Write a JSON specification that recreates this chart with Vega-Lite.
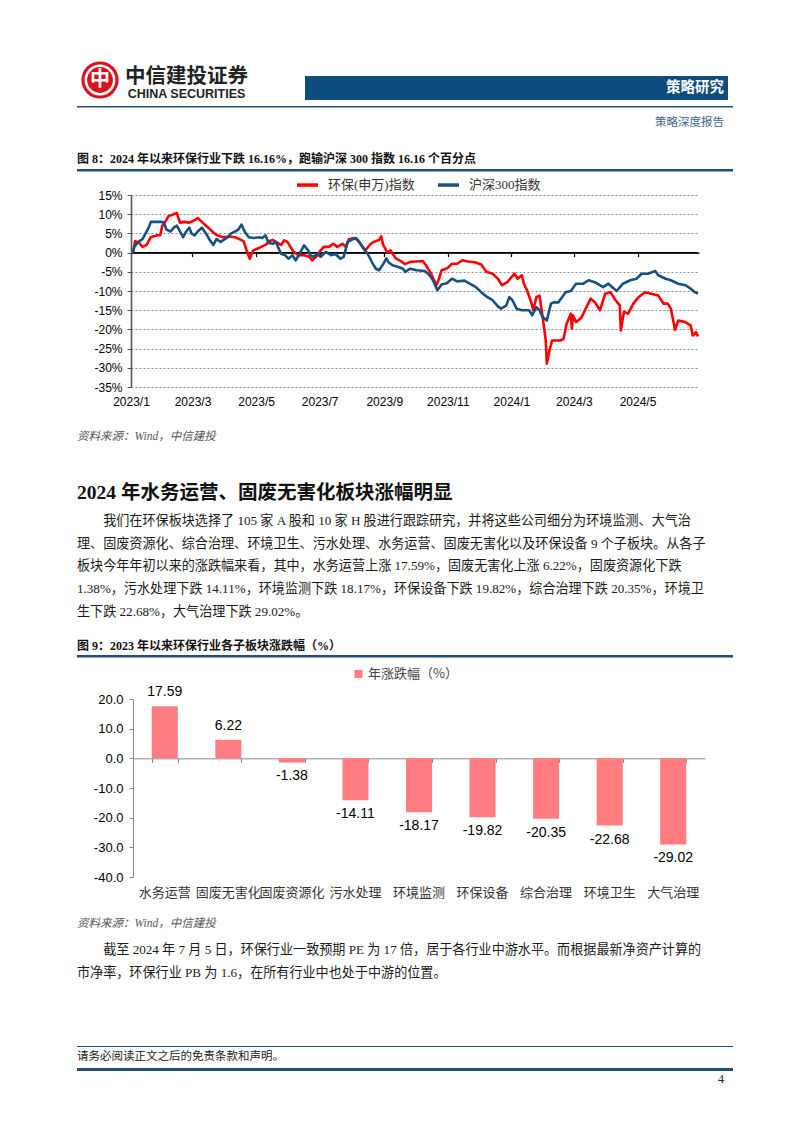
{
  "$schema": "https://vega.github.io/schema/vega-lite/v6.json",
  "background": "white",
  "padding": {"left": 77, "top": 58, "right": 5, "bottom": 5},
  "spacing": 0,
  "columns": 1,
  "align": "none",
  "center": false,
  "resolve": {"scale": {"color": "independent"}, "legend": {"color": "independent"}},
  "config": {
    "view": {"stroke": null},
    "font": "Liberation Sans, Noto Sans CJK SC",
    "locale": {"number": {"decimal": ".", "thousands": ",", "grouping": [3], "currency": ["", ""], "minus": "-"}},
    "concat": {"spacing": 0},
    "title": {"anchor": "start", "frame": "group", "color": "#111111", "font": "Liberation Serif, Noto Sans CJK SC", "fontWeight": "bold", "fontSize": 12, "offset": 3, "baseline": "top"}
  },
  "concat": [
    {
      "spacing": 0,
      "hconcat": [
        {
          "width": 46, "height": 44,
          "data": {"values": [{}]},
          "layer": [
            {"mark": {"type": "point", "filled": true, "color": "#d9121b", "size": 1385, "opacity": 1, "strokeWidth": 0}, "encoding": {}},
            {"mark": {"type": "point", "filled": false, "color": "#ffffff", "size": 800, "opacity": 1, "strokeWidth": 2.5}, "encoding": {}},
            {"mark": {"type": "text", "color": "#ffffff", "fontSize": 20, "fontWeight": "bold", "font": "Noto Sans CJK SC", "baseline": "middle"}, "encoding": {"text": {"value": "中"}}}
          ]
        },
        {
          "width": 127, "height": 44,
          "data": {"values": [{}]},
          "layer": [
            {"mark": {"type": "text", "font": "Noto Sans CJK SC", "fontSize": 20.5, "fontWeight": "bold", "color": "#222222", "baseline": "middle", "dy": -3.5}, "encoding": {"text": {"value": "中信建投证券"}}},
            {"mark": {"type": "text", "font": "Liberation Sans", "fontSize": 12.5, "fontWeight": "bold", "color": "#222222", "baseline": "middle", "dy": 13.5}, "encoding": {"text": {"value": "CHINA SECURITIES"}}}
          ]
        },
        {"width": 55, "height": 1, "mark": "text", "encoding": {"text": {"value": ""}}},
        {
          "spacing": 0,
          "vconcat": [
            {"width": 423, "height": 18, "mark": "text", "encoding": {"text": {"value": ""}}},
            {"width": 423, "height": 24, "view": {"fill": "#0e4c7d"},
             "data": {"values": [{}]},
             "mark": {"type": "text", "color": "#ffffff", "fontSize": 14.5, "fontWeight": "bold", "font": "Noto Sans CJK SC", "align": "right", "baseline": "middle", "dx": -4},
             "encoding": {"x": {"value": "width"}, "text": {"value": "策略研究"}}}
          ]
        }
      ]
    },
    {"width": 1, "height": 4, "mark": "text", "encoding": {"text": {"value": ""}}},
    {"width": 656, "height": 1.5, "view": {"fill": "#1f4e79"}, "mark": "text", "encoding": {"text": {"value": ""}}},
    {"width": 647, "height": 30,
     "data": {"values": [{}]},
     "mark": {"type": "text", "fontSize": 11.5, "color": "#3f6489", "align": "right", "baseline": "middle", "font": "Noto Sans CJK SC"},
     "encoding": {"x": {"value": "width"}, "text": {"value": "策略深度报告"}}},
    {"width": 1, "height": 15, "mark": "text", "encoding": {"text": {"value": ""}}},
    {"width": 656, "height": 2.5, "view": {"fill": "#1f4e79"},
     "title": {"text": "图 8：2024 年以来环保行业下跌 16.16%，跑输沪深 300 指数 16.16 个百分点", "fontSize": 12, "offset": 3},
     "mark": "text", "encoding": {"text": {"value": ""}}},
    {
      "spacing": 0,
      "resolve": {"scale": {"color": "independent"}, "legend": {"color": "independent"}},
      "hconcat": [
        {"width": 1, "height": 1, "mark": "text", "encoding": {"text": {"value": ""}}},
        {
          "width": 568, "height": 192,
          "data": {"values": [
            {"d":"2023-01-03","s":"环保(申万)指数","v":0},
            {"d":"2023-01-05","s":"环保(申万)指数","v":3.0},
            {"d":"2023-01-09","s":"环保(申万)指数","v":2.5},
            {"d":"2023-01-12","s":"环保(申万)指数","v":1.5},
            {"d":"2023-01-16","s":"环保(申万)指数","v":2.0},
            {"d":"2023-01-20","s":"环保(申万)指数","v":4.0},
            {"d":"2023-01-26","s":"环保(申万)指数","v":4.5},
            {"d":"2023-01-29","s":"环保(申万)指数","v":4.5},
            {"d":"2023-01-31","s":"环保(申万)指数","v":7.0},
            {"d":"2023-02-04","s":"环保(申万)指数","v":8.5},
            {"d":"2023-02-06","s":"环保(申万)指数","v":9.5},
            {"d":"2023-02-11","s":"环保(申万)指数","v":10.0},
            {"d":"2023-02-14","s":"环保(申万)指数","v":10.3},
            {"d":"2023-02-17","s":"环保(申万)指数","v":7.8},
            {"d":"2023-02-21","s":"环保(申万)指数","v":8.0},
            {"d":"2023-02-26","s":"环保(申万)指数","v":7.8},
            {"d":"2023-03-02","s":"环保(申万)指数","v":8.3},
            {"d":"2023-03-06","s":"环保(申万)指数","v":9.0},
            {"d":"2023-03-10","s":"环保(申万)指数","v":8.0},
            {"d":"2023-03-14","s":"环保(申万)指数","v":7.0},
            {"d":"2023-03-18","s":"环保(申万)指数","v":6.0},
            {"d":"2023-03-22","s":"环保(申万)指数","v":5.0},
            {"d":"2023-03-25","s":"环保(申万)指数","v":4.5},
            {"d":"2023-03-30","s":"环保(申万)指数","v":4.0},
            {"d":"2023-04-05","s":"环保(申万)指数","v":4.2},
            {"d":"2023-04-11","s":"环保(申万)指数","v":4.0},
            {"d":"2023-04-15","s":"环保(申万)指数","v":3.5},
            {"d":"2023-04-19","s":"环保(申万)指数","v":3.0},
            {"d":"2023-04-22","s":"环保(申万)指数","v":0.5},
            {"d":"2023-04-25","s":"环保(申万)指数","v":-1.6},
            {"d":"2023-04-28","s":"环保(申万)指数","v":0.5},
            {"d":"2023-05-02","s":"环保(申万)指数","v":1.0},
            {"d":"2023-05-06","s":"环保(申万)指数","v":1.5},
            {"d":"2023-05-10","s":"环保(申万)指数","v":2.0},
            {"d":"2023-05-14","s":"环保(申万)指数","v":3.0},
            {"d":"2023-05-17","s":"环保(申万)指数","v":3.3},
            {"d":"2023-05-20","s":"环保(申万)指数","v":2.8},
            {"d":"2023-05-25","s":"环保(申万)指数","v":2.0},
            {"d":"2023-05-28","s":"环保(申万)指数","v":3.2},
            {"d":"2023-05-31","s":"环保(申万)指数","v":2.8},
            {"d":"2023-06-03","s":"环保(申万)指数","v":1.5},
            {"d":"2023-06-06","s":"环保(申万)指数","v":0.2},
            {"d":"2023-06-11","s":"环保(申万)指数","v":-0.7},
            {"d":"2023-06-16","s":"环保(申万)指数","v":-0.7},
            {"d":"2023-06-21","s":"环保(申万)指数","v":-1.1},
            {"d":"2023-06-24","s":"环保(申万)指数","v":-2.0},
            {"d":"2023-06-29","s":"环保(申万)指数","v":-0.7},
            {"d":"2023-07-02","s":"环保(申万)指数","v":0.6},
            {"d":"2023-07-05","s":"环保(申万)指数","v":1.5},
            {"d":"2023-07-10","s":"环保(申万)指数","v":1.5},
            {"d":"2023-07-14","s":"环保(申万)指数","v":2.3},
            {"d":"2023-07-18","s":"环保(申万)指数","v":1.5},
            {"d":"2023-07-23","s":"环保(申万)指数","v":2.3},
            {"d":"2023-07-26","s":"环保(申万)指数","v":1.5},
            {"d":"2023-07-29","s":"环保(申万)指数","v":3.5},
            {"d":"2023-08-03","s":"环保(申万)指数","v":3.8},
            {"d":"2023-08-06","s":"环保(申万)指数","v":3.3},
            {"d":"2023-08-09","s":"环保(申万)指数","v":2.3},
            {"d":"2023-08-14","s":"环保(申万)指数","v":0.6},
            {"d":"2023-08-19","s":"环保(申万)指数","v":2.3},
            {"d":"2023-08-22","s":"环保(申万)指数","v":2.8},
            {"d":"2023-08-27","s":"环保(申万)指数","v":3.3},
            {"d":"2023-08-29","s":"环保(申万)指数","v":4.2},
            {"d":"2023-08-31","s":"环保(申万)指数","v":2.0},
            {"d":"2023-09-04","s":"环保(申万)指数","v":0.0},
            {"d":"2023-09-07","s":"环保(申万)指数","v":0.6},
            {"d":"2023-09-12","s":"环保(申万)指数","v":-1.5},
            {"d":"2023-09-17","s":"环保(申万)指数","v":-2.2},
            {"d":"2023-09-21","s":"环保(申万)指数","v":-3.0},
            {"d":"2023-09-26","s":"环保(申万)指数","v":-2.4},
            {"d":"2023-10-02","s":"环保(申万)指数","v":-2.3},
            {"d":"2023-10-08","s":"环保(申万)指数","v":-2.2},
            {"d":"2023-10-12","s":"环保(申万)指数","v":-3.7},
            {"d":"2023-10-16","s":"环保(申万)指数","v":-5.5},
            {"d":"2023-10-21","s":"环保(申万)指数","v":-8.5},
            {"d":"2023-10-23","s":"环保(申万)指数","v":-7.2},
            {"d":"2023-10-26","s":"环保(申万)指数","v":-4.6},
            {"d":"2023-11-01","s":"环保(申万)指数","v":-4.0},
            {"d":"2023-11-05","s":"环保(申万)指数","v":-2.9},
            {"d":"2023-11-10","s":"环保(申万)指数","v":-2.9},
            {"d":"2023-11-15","s":"环保(申万)指数","v":-2.0},
            {"d":"2023-11-20","s":"环保(申万)指数","v":-2.3},
            {"d":"2023-11-27","s":"环保(申万)指数","v":-2.5},
            {"d":"2023-12-03","s":"环保(申万)指数","v":-3.1},
            {"d":"2023-12-08","s":"环保(申万)指数","v":-5.0},
            {"d":"2023-12-14","s":"环保(申万)指数","v":-5.5},
            {"d":"2023-12-19","s":"环保(申万)指数","v":-6.8},
            {"d":"2023-12-23","s":"环保(申万)指数","v":-8.5},
            {"d":"2023-12-28","s":"环保(申万)指数","v":-7.7},
            {"d":"2024-01-04","s":"环保(申万)指数","v":-5.5},
            {"d":"2024-01-07","s":"环保(申万)指数","v":-6.8},
            {"d":"2024-01-11","s":"环保(申万)指数","v":-5.9},
            {"d":"2024-01-13","s":"环保(申万)指数","v":-8.1},
            {"d":"2024-01-16","s":"环保(申万)指数","v":-9.8},
            {"d":"2024-01-20","s":"环保(申万)指数","v":-12.9},
            {"d":"2024-01-22","s":"环保(申万)指数","v":-15.0},
            {"d":"2024-01-25","s":"环保(申万)指数","v":-11.6},
            {"d":"2024-01-28","s":"环保(申万)指数","v":-11.2},
            {"d":"2024-01-31","s":"环保(申万)指数","v":-16.8},
            {"d":"2024-02-03","s":"环保(申万)指数","v":-22.9},
            {"d":"2024-02-04","s":"环保(申万)指数","v":-28.9},
            {"d":"2024-02-07","s":"环保(申万)指数","v":-25.0},
            {"d":"2024-02-09","s":"环保(申万)指数","v":-22.9},
            {"d":"2024-02-17","s":"环保(申万)指数","v":-22.9},
            {"d":"2024-02-20","s":"环保(申万)指数","v":-22.5},
            {"d":"2024-02-23","s":"环保(申万)指数","v":-18.5},
            {"d":"2024-02-27","s":"环保(申万)指数","v":-15.9},
            {"d":"2024-02-28","s":"环保(申万)指数","v":-19.8},
            {"d":"2024-02-29","s":"环保(申万)指数","v":-16.3},
            {"d":"2024-03-03","s":"环保(申万)指数","v":-18.1},
            {"d":"2024-03-08","s":"环保(申万)指数","v":-17.0},
            {"d":"2024-03-13","s":"环保(申万)指数","v":-14.2},
            {"d":"2024-03-17","s":"环保(申万)指数","v":-12.0},
            {"d":"2024-03-21","s":"环保(申万)指数","v":-12.9},
            {"d":"2024-03-26","s":"环保(申万)指数","v":-15.0},
            {"d":"2024-03-31","s":"环保(申万)指数","v":-10.7},
            {"d":"2024-04-05","s":"环保(申万)指数","v":-10.3},
            {"d":"2024-04-10","s":"环保(申万)指数","v":-12.4},
            {"d":"2024-04-14","s":"环保(申万)指数","v":-13.8},
            {"d":"2024-04-15","s":"环保(申万)指数","v":-20.3},
            {"d":"2024-04-18","s":"环保(申万)指数","v":-15.4},
            {"d":"2024-04-22","s":"环保(申万)指数","v":-15.9},
            {"d":"2024-04-27","s":"环保(申万)指数","v":-13.3},
            {"d":"2024-05-02","s":"环保(申万)指数","v":-11.6},
            {"d":"2024-05-08","s":"环保(申万)指数","v":-10.3},
            {"d":"2024-05-14","s":"环保(申万)指数","v":-10.7},
            {"d":"2024-05-21","s":"环保(申万)指数","v":-11.2},
            {"d":"2024-05-26","s":"环保(申万)指数","v":-13.3},
            {"d":"2024-05-30","s":"环保(申万)指数","v":-13.3},
            {"d":"2024-06-02","s":"环保(申万)指数","v":-14.6},
            {"d":"2024-06-06","s":"环保(申万)指数","v":-20.1},
            {"d":"2024-06-09","s":"环保(申万)指数","v":-17.7},
            {"d":"2024-06-16","s":"环保(申万)指数","v":-18.1},
            {"d":"2024-06-21","s":"环保(申万)指数","v":-19.0},
            {"d":"2024-06-23","s":"环保(申万)指数","v":-21.6},
            {"d":"2024-06-26","s":"环保(申万)指数","v":-20.7},
            {"d":"2024-06-28","s":"环保(申万)指数","v":-21.8},
            {"d":"2023-01-03","s":"沪深300指数","v":0},
            {"d":"2023-01-04","s":"沪深300指数","v":1.5},
            {"d":"2023-01-08","s":"沪深300指数","v":2.8},
            {"d":"2023-01-12","s":"沪深300指数","v":3.5},
            {"d":"2023-01-15","s":"沪深300指数","v":5.0},
            {"d":"2023-01-18","s":"沪深300指数","v":6.5},
            {"d":"2023-01-20","s":"沪深300指数","v":8.0},
            {"d":"2023-01-26","s":"沪深300指数","v":8.0},
            {"d":"2023-01-31","s":"沪深300指数","v":8.0},
            {"d":"2023-02-02","s":"沪深300指数","v":7.5},
            {"d":"2023-02-04","s":"沪深300指数","v":6.0},
            {"d":"2023-02-08","s":"沪深300指数","v":5.5},
            {"d":"2023-02-11","s":"沪深300指数","v":6.5},
            {"d":"2023-02-14","s":"沪深300指数","v":7.0},
            {"d":"2023-02-17","s":"沪深300指数","v":5.5},
            {"d":"2023-02-20","s":"沪深300指数","v":4.0},
            {"d":"2023-02-23","s":"沪深300指数","v":5.5},
            {"d":"2023-02-26","s":"沪深300指数","v":6.5},
            {"d":"2023-02-28","s":"沪深300指数","v":5.0},
            {"d":"2023-03-03","s":"沪深300指数","v":4.5},
            {"d":"2023-03-06","s":"沪深300指数","v":5.5},
            {"d":"2023-03-10","s":"沪深300指数","v":6.5},
            {"d":"2023-03-14","s":"沪深300指数","v":5.0},
            {"d":"2023-03-17","s":"沪深300指数","v":3.5},
            {"d":"2023-03-21","s":"沪深300指数","v":2.0},
            {"d":"2023-03-24","s":"沪深300指数","v":3.5},
            {"d":"2023-03-28","s":"沪深300指数","v":2.8},
            {"d":"2023-04-01","s":"沪深300指数","v":3.5},
            {"d":"2023-04-04","s":"沪深300指数","v":4.0},
            {"d":"2023-04-07","s":"沪深300指数","v":5.0},
            {"d":"2023-04-11","s":"沪深300指数","v":5.5},
            {"d":"2023-04-14","s":"沪深300指数","v":6.0},
            {"d":"2023-04-17","s":"沪深300指数","v":7.3},
            {"d":"2023-04-20","s":"沪深300指数","v":5.5},
            {"d":"2023-04-24","s":"沪深300指数","v":4.0},
            {"d":"2023-04-29","s":"沪深300指数","v":3.8},
            {"d":"2023-05-04","s":"沪深300指数","v":4.0},
            {"d":"2023-05-07","s":"沪深300指数","v":3.8},
            {"d":"2023-05-10","s":"沪深300指数","v":4.5},
            {"d":"2023-05-13","s":"沪深300指数","v":2.5},
            {"d":"2023-05-17","s":"沪深300指数","v":2.3},
            {"d":"2023-05-20","s":"沪深300指数","v":2.8},
            {"d":"2023-05-22","s":"沪深300指数","v":1.5},
            {"d":"2023-05-25","s":"沪深300指数","v":-0.3},
            {"d":"2023-05-29","s":"沪深300指数","v":-0.7},
            {"d":"2023-06-01","s":"沪深300指数","v":-1.6},
            {"d":"2023-06-05","s":"沪深300指数","v":-0.7},
            {"d":"2023-06-08","s":"沪深300指数","v":-2.0},
            {"d":"2023-06-11","s":"沪深300指数","v":-0.7},
            {"d":"2023-06-16","s":"沪深300指数","v":1.9},
            {"d":"2023-06-20","s":"沪深300指数","v":0.6},
            {"d":"2023-06-22","s":"沪深300指数","v":-0.7},
            {"d":"2023-06-25","s":"沪深300指数","v":-1.1},
            {"d":"2023-06-29","s":"沪深300指数","v":-0.3},
            {"d":"2023-07-02","s":"沪深300指数","v":-1.1},
            {"d":"2023-07-07","s":"沪深300指数","v":0.2},
            {"d":"2023-07-12","s":"沪深300指数","v":-0.7},
            {"d":"2023-07-16","s":"沪深300指数","v":-0.3},
            {"d":"2023-07-21","s":"沪深300指数","v":-1.6},
            {"d":"2023-07-24","s":"沪深300指数","v":-1.1},
            {"d":"2023-07-28","s":"沪深300指数","v":2.8},
            {"d":"2023-08-02","s":"沪深300指数","v":3.5},
            {"d":"2023-08-05","s":"沪深300指数","v":3.8},
            {"d":"2023-08-07","s":"沪深300指数","v":3.2},
            {"d":"2023-08-12","s":"沪深300指数","v":1.1},
            {"d":"2023-08-16","s":"沪深300指数","v":-0.3},
            {"d":"2023-08-21","s":"沪深300指数","v":-2.9},
            {"d":"2023-08-24","s":"沪深300指数","v":-4.2},
            {"d":"2023-08-27","s":"沪深300指数","v":-4.6},
            {"d":"2023-08-31","s":"沪深300指数","v":-3.0},
            {"d":"2023-09-03","s":"沪深300指数","v":-1.5},
            {"d":"2023-09-05","s":"沪深300指数","v":-2.5},
            {"d":"2023-09-09","s":"沪深300指数","v":-3.3},
            {"d":"2023-09-14","s":"沪深300指数","v":-3.7},
            {"d":"2023-09-19","s":"沪深300指数","v":-4.2},
            {"d":"2023-09-21","s":"沪深300指数","v":-5.0},
            {"d":"2023-09-26","s":"沪深300指数","v":-4.2},
            {"d":"2023-10-02","s":"沪深300指数","v":-4.6},
            {"d":"2023-10-10","s":"沪深300指数","v":-4.8},
            {"d":"2023-10-13","s":"沪深300指数","v":-5.5},
            {"d":"2023-10-17","s":"沪深300指数","v":-6.8},
            {"d":"2023-10-22","s":"沪深300指数","v":-9.8},
            {"d":"2023-10-26","s":"沪深300指数","v":-8.3},
            {"d":"2023-10-31","s":"沪深300指数","v":-8.0},
            {"d":"2023-11-05","s":"沪深300指数","v":-6.8},
            {"d":"2023-11-10","s":"沪深300指数","v":-7.5},
            {"d":"2023-11-17","s":"沪深300指数","v":-7.3},
            {"d":"2023-11-22","s":"沪深300指数","v":-8.1},
            {"d":"2023-11-28","s":"沪深300指数","v":-9.0},
            {"d":"2023-12-03","s":"沪深300指数","v":-10.3},
            {"d":"2023-12-09","s":"沪深300指数","v":-11.6},
            {"d":"2023-12-14","s":"沪深300指数","v":-12.4},
            {"d":"2023-12-19","s":"沪深300指数","v":-14.0},
            {"d":"2023-12-22","s":"沪深300指数","v":-14.6},
            {"d":"2023-12-27","s":"沪深300指数","v":-13.8},
            {"d":"2023-12-30","s":"沪深300指数","v":-11.6},
            {"d":"2024-01-02","s":"沪深300指数","v":-12.4},
            {"d":"2024-01-06","s":"沪深300指数","v":-14.6},
            {"d":"2024-01-11","s":"沪深300指数","v":-15.0},
            {"d":"2024-01-15","s":"沪深300指数","v":-15.0},
            {"d":"2024-01-18","s":"沪深300指数","v":-15.0},
            {"d":"2024-01-21","s":"沪深300指数","v":-16.3},
            {"d":"2024-01-25","s":"沪深300指数","v":-14.2},
            {"d":"2024-01-28","s":"沪深300指数","v":-15.0},
            {"d":"2024-01-31","s":"沪深300指数","v":-16.8},
            {"d":"2024-02-04","s":"沪深300指数","v":-17.7},
            {"d":"2024-02-06","s":"沪深300指数","v":-15.4},
            {"d":"2024-02-08","s":"沪深300指数","v":-13.3},
            {"d":"2024-02-11","s":"沪深300指数","v":-12.9},
            {"d":"2024-02-15","s":"沪深300指数","v":-13.0},
            {"d":"2024-02-22","s":"沪深300指数","v":-10.3},
            {"d":"2024-02-27","s":"沪深300指数","v":-10.0},
            {"d":"2024-03-03","s":"沪深300指数","v":-8.1},
            {"d":"2024-03-10","s":"沪深300指数","v":-8.1},
            {"d":"2024-03-15","s":"沪深300指数","v":-7.2},
            {"d":"2024-03-21","s":"沪深300指数","v":-7.7},
            {"d":"2024-03-29","s":"沪深300指数","v":-9.0},
            {"d":"2024-04-03","s":"沪深300指数","v":-8.1},
            {"d":"2024-04-11","s":"沪深300指数","v":-10.0},
            {"d":"2024-04-17","s":"沪深300指数","v":-8.1},
            {"d":"2024-04-24","s":"沪深300指数","v":-7.2},
            {"d":"2024-04-30","s":"沪深300指数","v":-6.8},
            {"d":"2024-05-05","s":"沪深300指数","v":-5.5},
            {"d":"2024-05-11","s":"沪深300指数","v":-5.5},
            {"d":"2024-05-18","s":"沪深300指数","v":-4.8},
            {"d":"2024-05-21","s":"沪深300指数","v":-5.9},
            {"d":"2024-05-28","s":"沪深300指数","v":-6.8},
            {"d":"2024-06-02","s":"沪深300指数","v":-7.2},
            {"d":"2024-06-09","s":"沪深300指数","v":-8.1},
            {"d":"2024-06-16","s":"沪深300指数","v":-8.5},
            {"d":"2024-06-21","s":"沪深300指数","v":-9.4},
            {"d":"2024-06-25","s":"沪深300指数","v":-10.3},
            {"d":"2024-06-28","s":"沪深300指数","v":-10.7}
          ]},
          "layer": [
            {
              "mark": {"type": "line", "color": "#000000", "strokeWidth": 1.3},
              "encoding": {
                "x": {"field": "d", "type": "temporal",
                      "scale": {"type": "utc", "domain": [{"year": 2023, "month": 1, "date": 1, "utc": true}, {"year": 2024, "month": 6, "date": 29, "utc": true}]},
                      "axis": {"orient": "bottom", "offset": -134.4, "labels": false, "ticks": true, "tickSize": 4, "tickColor": "#000000", "tickWidth": 1.2, "domain": true, "domainColor": "#000000", "domainWidth": 1.3, "grid": false, "title": null, "tickCount": 20,
                               "values": [{"year": 2023, "month": 3, "date": 1, "utc": true}, {"year": 2023, "month": 5, "date": 1, "utc": true}, {"year": 2023, "month": 7, "date": 1, "utc": true}, {"year": 2023, "month": 9, "date": 1, "utc": true}, {"year": 2023, "month": 11, "date": 1, "utc": true}, {"year": 2024, "month": 1, "date": 1, "utc": true}, {"year": 2024, "month": 3, "date": 1, "utc": true}, {"year": 2024, "month": 5, "date": 1, "utc": true}]}},
                "y": {"datum": 0, "type": "quantitative"}
              }
            },
            {
              "mark": {"type": "line", "strokeWidth": 2.6, "strokeJoin": "round"},
              "encoding": {
                "x": {"field": "d", "type": "temporal",
                      "axis": {"orient": "bottom", "domain": false, "ticks": false, "grid": false, "title": null, "labelPadding": 9, "labelFontSize": 12, "labelColor": "#000000", "labelFont": "Liberation Sans", "labelOverlap": false, "labelFlush": false, "tickCount": 20,
                               "labelExpr": "utcFormat(datum.value, '%Y/%-m')",
                               "values": [{"year": 2023, "month": 1, "date": 1, "utc": true}, {"year": 2023, "month": 3, "date": 1, "utc": true}, {"year": 2023, "month": 5, "date": 1, "utc": true}, {"year": 2023, "month": 7, "date": 1, "utc": true}, {"year": 2023, "month": 9, "date": 1, "utc": true}, {"year": 2023, "month": 11, "date": 1, "utc": true}, {"year": 2024, "month": 1, "date": 1, "utc": true}, {"year": 2024, "month": 3, "date": 1, "utc": true}, {"year": 2024, "month": 5, "date": 1, "utc": true}]}},
                "y": {"field": "v", "type": "quantitative",
                      "scale": {"domain": [-35, 15], "nice": false, "zero": false},
                      "axis": {"values": [-35, -30, -25, -20, -15, -10, -5, 0, 5, 10, 15], "tickCount": 30, "labelOverlap": false, "labelExpr": "replace(datum.label, '\u2212', '-') + '%'", "grid": true, "gridDash": [2, 2], "gridColor": "#8c8c8c", "gridWidth": 1, "domainColor": "#555555", "domainWidth": 1.6, "tickColor": "#555555", "tickSize": 4, "labelPadding": 5, "labelFontSize": 12, "labelColor": "#000000", "labelFont": "Liberation Sans", "minExtent": 53, "title": null}},
                "color": {"field": "s", "type": "nominal",
                          "scale": {"domain": ["环保(申万)指数", "沪深300指数"], "range": ["#ff0000", "#17517f"]},
                          "legend": {"orient": "none", "legendX": 164, "legendY": -22.7, "padding": 0, "direction": "horizontal", "title": null, "symbolType": "stroke", "symbolStrokeWidth": 3.5, "symbolSize": 440, "labelFontSize": 13, "labelFont": "Liberation Serif, Noto Sans CJK SC", "labelColor": "#333333", "labelOffset": 8, "columnPadding": 16}}
              }
            }
          ],
          "resolve": {"axis": {"x": "independent"}}
        }
      ]
    },
    {"width": 1, "height": 22.7, "mark": "text", "encoding": {"text": {"value": ""}}},
    {"width": 644, "height": 39.5,
     "title": {"text": "资料来源：Wind，中信建投", "fontSize": 11.5, "fontWeight": "normal", "fontStyle": "italic", "color": "#555555", "offset": 0},
     "mark": "text", "encoding": {"text": {"value": ""}}},
    {"width": 644, "height": 11.5,
     "title": {"text": "2024 年水务运营、固废无害化板块涨幅明显", "fontSize": 19.5, "fontWeight": "bold", "color": "#111111", "offset": 0},
     "mark": "text", "encoding": {"text": {"value": ""}}},
    {"width": 644, "height": 20.5,
     "title": {"text": [
       "\u200b\u3000\u3000我们在环保板块选择了 105 家 A 股和 10 家 H 股进行跟踪研究，并将这些公司细分为环境监测、大气治",
       "理、固废资源化、综合治理、环境卫生、污水处理、水务运营、固废无害化以及环保设备 9 个子板块。从各子",
       "板块今年年初以来的涨跌幅来看，其中，水务运营上涨 17.59%，固废无害化上涨 6.22%，固废资源化下跌",
       "1.38%，污水处理下跌 14.11%，环境监测下跌 18.17%，环保设备下跌 19.82%，综合治理下跌 20.35%，环境卫",
       "生下跌 22.68%，大气治理下跌 29.02%。"
     ], "fontSize": 13.1, "fontWeight": "normal", "lineHeight": 22.7, "color": "#1a1a1a", "offset": 0},
     "mark": "text", "encoding": {"text": {"value": ""}}},
    {"width": 656, "height": 2.5, "view": {"fill": "#1f4e79"},
     "title": {"text": "图 9：2023 年以来环保行业各子板块涨跌幅（%）", "fontSize": 12, "offset": 2},
     "mark": "text", "encoding": {"text": {"value": ""}}},
    {"width": 1, "height": 8.2, "mark": "text", "encoding": {"text": {"value": ""}}},
    {
      "spacing": 0,
      "resolve": {"scale": {"color": "independent"}, "legend": {"color": "independent"}},
      "hconcat": [
        {"width": 1, "height": 1, "mark": "text", "encoding": {"text": {"value": ""}}},
        {
          "width": 572, "height": 178,
          "data": {"values": [
            {"cat": "水务运营", "v": 17.59},
            {"cat": "固废无害化", "v": 6.22},
            {"cat": "固废资源化", "v": -1.38},
            {"cat": "污水处理", "v": -14.11},
            {"cat": "环境监测", "v": -18.17},
            {"cat": "环保设备", "v": -19.82},
            {"cat": "综合治理", "v": -20.35},
            {"cat": "环境卫生", "v": -22.68},
            {"cat": "大气治理", "v": -29.02}
          ]},
          "layer": [
            {
              "mark": {"type": "bar"},
              "encoding": {
                "x": {"field": "cat", "type": "nominal", "sort": null,
                      "scale": {"domain": ["水务运营", "固废无害化", "固废资源化", "污水处理", "环境监测", "环保设备", "综合治理", "环境卫生", "大气治理"], "paddingInner": 0.59, "paddingOuter": 0.295},
                      "axis": {"orient": "bottom", "domain": false, "ticks": false, "grid": false, "labelAngle": 0, "labelPadding": 9, "labelFontSize": 13, "labelFont": "Noto Sans CJK SC", "labelColor": "#333333", "title": null}},
                "y": {"field": "v", "type": "quantitative",
                      "scale": {"domain": [-40, 20], "nice": false},
                      "axis": {"values": [-40, -30, -20, -10, 0, 10, 20], "tickCount": 30, "labelOverlap": false, "format": ".1f", "labelExpr": "replace(datum.label, '\u2212', '-')", "grid": false, "domainColor": "#888888", "tickColor": "#888888", "tickSize": 4, "labelPadding": 6, "labelFontSize": 13, "labelColor": "#000000", "labelFont": "Liberation Sans", "minExtent": 55, "title": null}},
                "color": {"datum": "年涨跌幅（%）", "type": "nominal",
                          "scale": {"range": ["#ff7c80"]},
                          "legend": {"orient": "none", "legendX": 219, "legendY": -31.6, "padding": 0, "title": null, "symbolType": "square", "symbolSize": 64, "labelFontSize": 13, "labelFont": "Noto Sans CJK SC", "labelColor": "#444444", "labelOffset": 3}}
              }
            },
            {
              "transform": [{"filter": "datum.v >= 0"}],
              "mark": {"type": "text", "baseline": "middle", "dy": -14, "fontSize": 14, "color": "#000000", "font": "Liberation Sans"},
              "encoding": {
                "x": {"field": "cat", "type": "nominal", "sort": null,
                      "axis": {"orient": "bottom", "offset": -118.67, "labels": false, "ticks": true, "tickBand": "extent", "tickSize": 4, "tickColor": "#888888", "domain": true, "domainColor": "#888888", "grid": false, "title": null}},
                "y": {"field": "v", "type": "quantitative"},
                "text": {"field": "v", "type": "quantitative", "format": ".2f"}
              }
            },
            {
              "transform": [{"filter": "datum.v < 0"}],
              "mark": {"type": "text", "baseline": "middle", "dy": 14, "fontSize": 14, "color": "#000000", "font": "Liberation Sans"},
              "encoding": {
                "x": {"field": "cat", "type": "nominal", "sort": null, "axis": null},
                "y": {"field": "v", "type": "quantitative"},
                "text": {"field": "v", "type": "quantitative", "format": ".2f"}
              }
            }
          ],
          "resolve": {"axis": {"x": "independent"}}
        }
      ]
    },
    {"width": 1, "height": 17.4, "mark": "text", "encoding": {"text": {"value": ""}}},
    {"width": 644, "height": 14.3,
     "title": {"text": "资料来源：Wind，中信建投", "fontSize": 11.5, "fontWeight": "normal", "fontStyle": "italic", "color": "#555555", "offset": 0},
     "mark": "text", "encoding": {"text": {"value": ""}}},
    {"width": 644, "height": 65.2,
     "title": {"text": [
       "\u200b\u3000\u3000截至 2024 年 7 月 5 日，环保行业一致预期 PE 为 17 倍，居于各行业中游水平。而根据最新净资产计算的",
       "市净率，环保行业 PB 为 1.6，在所有行业中也处于中游的位置。"
     ], "fontSize": 13.1, "fontWeight": "normal", "lineHeight": 22.9, "color": "#1a1a1a", "offset": 0},
     "mark": "text", "encoding": {"text": {"value": ""}}},
    {"width": 656, "height": 1, "view": {"fill": "#1f4e79"}, "mark": "text", "encoding": {"text": {"value": ""}}},
    {"width": 1, "height": 2.7, "mark": "text", "encoding": {"text": {"value": ""}}},
    {"width": 644, "height": 5.3,
     "title": {"text": "请务必阅读正文之后的免责条款和声明。", "fontSize": 11.5, "fontWeight": "normal", "color": "#222222", "offset": 0},
     "mark": "text", "encoding": {"text": {"value": ""}}},
    {"width": 656, "height": 3, "view": {"fill": "#1f4e79"}, "mark": "text", "encoding": {"text": {"value": ""}}},
    {"width": 1, "height": 0.2, "mark": "text", "encoding": {"text": {"value": ""}}},
    {"width": 647, "height": 14,
     "data": {"values": [{}]},
     "mark": {"type": "text", "align": "right", "baseline": "middle", "fontSize": 12, "font": "Liberation Serif", "color": "#222222"},
     "encoding": {"x": {"value": "width"}, "text": {"value": "4"}}}
  ]
}
